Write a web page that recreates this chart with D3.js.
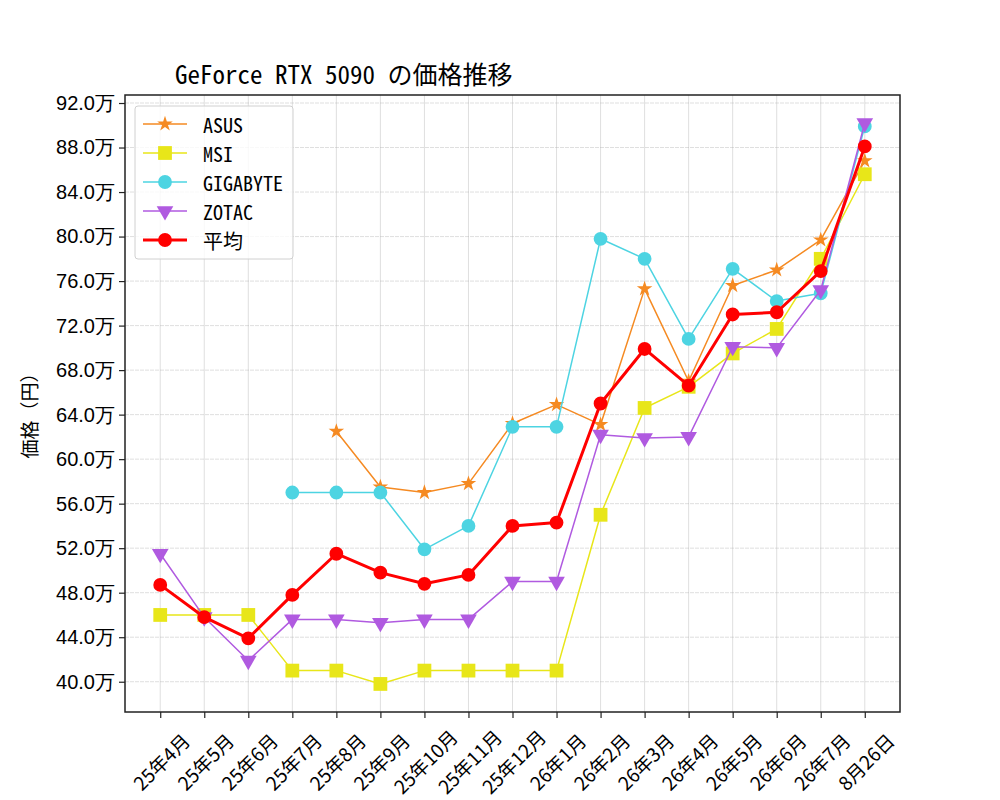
<!DOCTYPE html>
<html>
<head>
<meta charset="utf-8">
<script src="https://cdn.jsdelivr.net/npm/d3@7"></script>
<style>
body { margin: 0; background: #fff; }
svg { font-family: "Noto Sans Mono CJK JP", "DejaVu Sans Mono", "Noto Sans CJK JP", monospace; }
</style>
</head>
<body>
<svg></svg>
<script>
// months on the x axis
let months = ['25年4月', '25年5月', '25年6月', '25年7月', '25年8月', '25年9月', '25年10月', '25年11月',
  '25年12月', '26年1月', '26年2月', '26年3月', '26年4月', '26年5月', '26年6月', '26年7月', '8月26日']

// prices in 万円, null = no data
let asus = [null, null, null, null, 62.5, 57.5, 57.0, 57.8, 63.2, 64.9, 63.1, 75.3, 67.0, 75.6, 77.0, 79.7, 86.8]
let msi = [46.0, 46.0, 46.0, 41.0, 41.0, 39.8, 41.0, 41.0, 41.0, 41.0, 55.0, 64.6, 66.5, 69.5, 71.7, 78.0, 85.6]
let gigabyte = [null, null, null, 57.0, 57.0, 57.0, 51.9, 54.0, 62.9, 62.9, 79.8, 78.0, 70.8, 77.1, 74.2, 74.9, 89.9]
let zotac = [51.5, 45.8, 41.9, 45.6, 45.6, 45.3, 45.6, 45.6, 49.0, 49.0, 62.2, 61.9, 62.0, 70.1, 70.0, 75.2, 90.2]
let average = [48.7, 45.8, 43.9, 47.8, 51.5, 49.8, 48.8, 49.6, 54.0, 54.3, 65.0, 69.9, 66.6, 73.0, 73.2, 76.9, 88.1]

let yTicks = [40, 44, 48, 52, 56, 60, 64, 68, 72, 76, 80, 84, 88, 92]

let series = [
  { name: 'ASUS', values: asus, color: '#f58a22', marker: 'star', width: 1.5, size: 75 },
  { name: 'MSI', values: msi, color: '#e8e619', marker: 'square', width: 1.5, size: 190 },
  { name: 'GIGABYTE', values: gigabyte, color: '#4dd4e2', marker: 'circle', width: 1.5, size: 150 },
  { name: 'ZOTAC', values: zotac, color: '#b05ae0', marker: 'triangle', width: 1.5, size: 120 },
  { name: '平均', values: average, color: '#ff0000', marker: 'circle', width: 3, size: 150 }
]

const w = 1000
const h = 800
const axLeft = 125
const axRight = 900
const axTop = 95
const axBottom = 712

let svg = d3.select('svg').attr('width', w).attr('height', h)

let all = series.flatMap(s => s.values).filter(v => v != null)
let lo = d3.min(all), hi = d3.max(all)
let pad = (hi - lo) * 0.05

let xScale = d3.scaleLinear()
  .domain([-0.8, months.length - 1 + 0.8])
  .range([axLeft, axRight])

let yScale = d3.scaleLinear()
  .domain([lo - pad, hi + pad])
  .range([axBottom, axTop])

// grid
let grid = svg.append('g')
grid.selectAll('.vg')
  .data(months)
  .enter()
  .append('line')
  .attr('x1', (d, i) => xScale(i))
  .attr('x2', (d, i) => xScale(i))
  .attr('y1', axTop)
  .attr('y2', axBottom)
  .attr('stroke', '#b0b0b0')
  .attr('stroke-opacity', 0.5)
  .attr('stroke-width', 0.8)
grid.selectAll('.hg')
  .data(yTicks)
  .enter()
  .append('line')
  .attr('x1', axLeft)
  .attr('x2', axRight)
  .attr('y1', d => yScale(d))
  .attr('y2', d => yScale(d))
  .attr('stroke', '#b0b0b0')
  .attr('stroke-opacity', 0.5)
  .attr('stroke-width', 0.8)
  .attr('stroke-dasharray', '4,1')

let symbolFor = (m, size) => {
  if (m === 'star') return d3.symbol().type(d3.symbolStar).size(size)()
  if (m === 'square') return d3.symbol().type(d3.symbolSquare).size(size)()
  if (m === 'triangle') return d3.symbol().type(d3.symbolTriangle).size(size)()
  return d3.symbol().type(d3.symbolCircle).size(size)()
}
let rot = m => m === 'triangle' ? ' rotate(180)' : ''

let line = d3.line()
  .defined(d => d != null)
  .x((d, i) => xScale(i))
  .y(d => yScale(d))

series.forEach(s => {
  let g = svg.append('g')
  g.append('path')
    .datum(s.values)
    .attr('fill', 'none')
    .attr('stroke', s.color)
    .attr('stroke-width', s.width)
    .attr('stroke-linejoin', 'round')
    .attr('d', line)
  g.selectAll('path.mk')
    .data(s.values.map((v, i) => [i, v]).filter(d => d[1] != null))
    .enter()
    .append('path')
    .attr('class', 'mk')
    .attr('d', symbolFor(s.marker, s.size))
    .attr('fill', s.color)
    .attr('transform', d => 'translate(' + xScale(d[0]) + ',' + yScale(d[1]) + ')' + rot(s.marker))
})

// axes
let xAxis = d3.axisBottom(xScale)
  .tickValues(d3.range(months.length))
  .tickFormat(i => months[i])
  .tickSize(6)

let xg = svg.append('g')
  .attr('transform', 'translate(0,' + axBottom + ')')
  .call(xAxis)
xg.select('.domain').remove()
xg.selectAll('line').attr('stroke', '#222').attr('stroke-width', 1.2)
xg.selectAll('text')
  .attr('fill', '#000')
  .style('font-family', '"Noto Sans CJK JP", sans-serif')
  .style('font-size', '19px')
  .attr('text-anchor', 'middle')
  .attr('dominant-baseline', 'central')
  .attr('y', 0)
  .attr('dy', 0)
  .attr('transform', 'translate(0,49) rotate(-45)')

let yAxis = d3.axisLeft(yScale)
  .tickValues(yTicks)
  .tickFormat(d => d.toFixed(1) + '万')
  .tickSize(6)
  .tickPadding(4)

let yg = svg.append('g')
  .attr('transform', 'translate(' + axLeft + ',0)')
  .call(yAxis)
yg.select('.domain').remove()
yg.selectAll('line').attr('stroke', '#222').attr('stroke-width', 1.2)
yg.selectAll('text').attr('fill', '#000').style('font-size', '20px')

svg.append('rect')
  .attr('x', axLeft)
  .attr('y', axTop)
  .attr('width', axRight - axLeft)
  .attr('height', axBottom - axTop)
  .attr('fill', 'none')
  .attr('stroke', '#222')
  .attr('stroke-width', 1.5)

// title and y label
svg.append('text')
  .attr('x', 175)
  .attr('y', 84)
  .style('font-size', '25px')
  .text('GeForce RTX 5090 の価格推移')

svg.append('text')
  .attr('transform', 'translate(28,411) rotate(-90)')
  .attr('text-anchor', 'middle')
  .attr('dominant-baseline', 'central')
  .style('font-size', '19px')
  .text('価格（円）')

// legend
let lg = svg.append('g').attr('transform', 'translate(135,106)')
lg.append('rect')
  .attr('width', 158)
  .attr('height', 153)
  .attr('rx', 3)
  .attr('fill', '#fff')
  .attr('fill-opacity', 0.8)
  .attr('stroke', '#d0d0d0')

series.forEach((s, i) => {
  let yy = 18 + i * 29
  lg.append('line')
    .attr('x1', 8).attr('x2', 52)
    .attr('y1', yy).attr('y2', yy)
    .attr('stroke', s.color)
    .attr('stroke-width', s.width)
  lg.append('path')
    .attr('d', symbolFor(s.marker, s.size))
    .attr('fill', s.color)
    .attr('transform', 'translate(30,' + yy + ')' + rot(s.marker))
  lg.append('text')
    .attr('x', 68)
    .attr('y', yy)
    .attr('dominant-baseline', 'central')
    .style('font-size', '20px')
    .text(s.name)
})
</script>
</body>
</html>
